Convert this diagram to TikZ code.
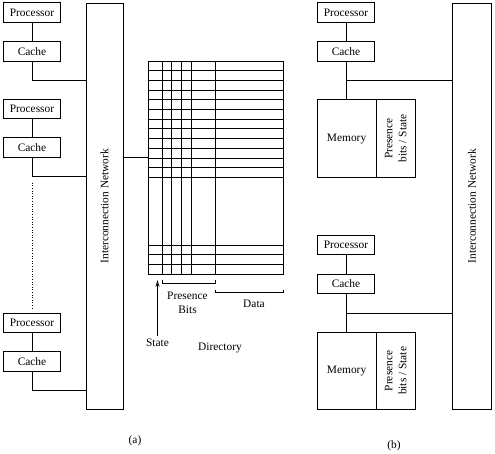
\documentclass[tikz,border=0pt]{standalone}
\usepackage{fontspec}
\setmainfont{Liberation Serif}
\usetikzlibrary{positioning,arrows.meta}

\begin{document}
\begin{tikzpicture}[
    x=1pt, y=-1pt,
    line width=0.6pt,
    unit/.style={rectangle,draw,inner sep=0pt,minimum width=57.5pt,minimum height=19.5pt},
    net/.style={rectangle,draw,inner sep=0pt,minimum height=406.3pt},
    memory/.style={rectangle,draw,inner sep=0pt,minimum width=58.7pt,minimum height=77.7pt},
    bits/.style={rectangle,draw,inner sep=0pt,minimum width=38.3pt,minimum height=77.7pt},
    font=\fontsize{11.4}{14}\selectfont
    ]

    \useasboundingbox (0,0) rectangle (495,453);

    % networks:
    \node (netA) at (104.5,206.2) [net,minimum width=37pt] {};
    \node (netAtxt) at (netA) [rotate=90] {Interconnection Network};
    \node (netB) at (472,206.2) [net,minimum width=39.4pt] {};
    \node (netBtxt) at (netB) [rotate=90] {Interconnection Network};

    % left processors:
    \foreach \i/\y in {1/12.5,2/108.8,3/322.7} {
      \node (procA\i) at (32,\y) [unit] {Processor};
      \node (cacheA\i) at (32,\y+38.7) [unit] {Cache};
      \draw (procA\i) -- (cacheA\i);
      \draw (cacheA\i.south) -- ++(0,19.2) coordinate (jA\i) -- (jA\i -| netA.west);
    }
    \draw [dotted] ([yshift=-6pt]jA2) -- ([yshift=5pt]procA3.north);

    % directory:
    \node (dir) at (215.5,167.5) [rectangle,draw,inner sep=0pt,minimum width=135pt,minimum height=213pt] {};
    \foreach \x in {162.3,171.7,181.7,191.3,215.5}
      \draw (\x,61) -- (\x,274);
    \foreach \k in {1,...,12}
      \draw (dir.west |- 0,61+9.68*\k) -- (dir.east |- 0,61+9.68*\k);
    \foreach \k in {1,2,3}
      \draw (dir.west |- 0,274-9.68*\k) -- (dir.east |- 0,274-9.68*\k);
    \coordinate (dirIn) at (148,157);
    \draw (netA.east |- dirIn) -- (dirIn);

    % brackets:
    \draw (162.3,280.3) -- (162.3,283.3) -- (215.5,283.3) -- (215.5,280.3);
    \draw (215.5,289.7) -- (215.5,292.7) -- (283,292.7) -- (283,289.7);

    % bottom text:
    \node (pbits) at (187.5,302.5) [align=center] {Presence\\Bits};
    \node (data) at (254,304) {Data};
    \node (state) at (157.5,343) {State};
    \coordinate (stateTip) at (157.5,280);
    \draw [-{Stealth[open,length=7pt,width=4pt]}] (state) -- (stateTip);
    \node (dirtxt) at (220,348) {Directory};
    \node (capA) at (135,441) {(a)};

    % right processors:
    \foreach \i/\y in {1/12.5,2/244.9} {
      \node (procB\i) at (346,\y) [unit] {Processor};
      \node (cacheB\i) at (346,\y+38.7) [unit] {Cache};
      \node (memB\i) at (346.6,\y+126) [memory] {Memory};
      \node (pbB\i) [bits,right=0pt of memB\i] {};
      \node (pbtxtB\i) at (pbB\i) [rotate=90,align=center] {Presence\\bits / State};
      \draw (procB\i) -- (cacheB\i);
      \draw (cacheB\i.south) -- (memB\i.north -| cacheB\i.south);
      \path (cacheB\i.south) ++(0,19.5) coordinate (jB\i);
      \draw (jB\i) -- (jB\i -| netB.west);
    }
    \node (capB) at (394,446) {(b)};

  \end{tikzpicture}
\end{document}
